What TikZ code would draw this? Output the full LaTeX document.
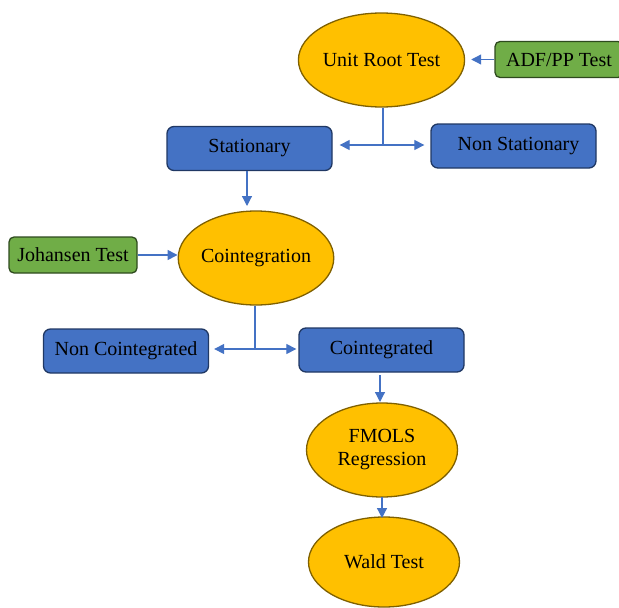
\documentclass[tikz,border=0pt]{standalone}
\usepackage{fontspec}
\setmainfont{Liberation Serif}
\usetikzlibrary{shapes.geometric,arrows.meta,calc}
\definecolor{goldfill}{HTML}{FFC000}
\definecolor{golddraw}{HTML}{7F6000}
\definecolor{bluefill}{HTML}{4472C4}
\definecolor{bluedraw}{HTML}{203864}
\definecolor{greenfill}{HTML}{70AD47}
\definecolor{greendraw}{HTML}{2E4A1E}
\definecolor{linkblue}{HTML}{4472C4}
\tikzset{
  stage/.style={ellipse, fill=goldfill, draw=golddraw, line width=1.3pt,
    minimum width=151pt, minimum height=94pt, inner sep=0pt,
    align=center, font=\fontsize{20}{25}\selectfont},
  result/.style={rectangle, rounded corners=7pt, fill=bluefill, draw=bluedraw,
    line width=1.3pt, minimum width=165pt, minimum height=44pt, inner sep=0pt,
    font=\fontsize{20}{24}\selectfont},
  testbox/.style={rectangle, rounded corners=5pt, fill=greenfill, draw=greendraw,
    line width=1.3pt, minimum height=36pt, inner sep=0pt,
    font=\fontsize{20}{24}\selectfont},
  link/.style={draw=linkblue, line width=1.2pt},
  flow/.style={link, -{Triangle[length=10pt,width=10pt]}},
}
\begin{document}
\begin{tikzpicture}[x=1pt,y=-1pt]
  \useasboundingbox (0,0) rectangle (619,608);
  \clip (0,0) rectangle (619,608);

  % test nodes and stages
  \node[stage] (ur) at (381.5,60) {Unit Root Test};
  \node[testbox, minimum width=128pt] (adf) at (559,59.5) {ADF/PP Test};
  \node[result] (st) at (249.5,148.5) {Stationary};
  \node[result] (ns) at (513.5,146) {\hspace*{10pt}Non Stationary};
  \node[stage] (ci) at (256,258) {Cointegration};
  \node[testbox, minimum width=128pt] (jo) at (73,255) {Johansen Test};
  \node[result] (nc) at (126,351) {Non Cointegrated};
  \node[result] (co) at (381.5,350) {Cointegrated};
  \node[stage] (fm) at (382,450) {FMOLS\\[-2pt]Regression};
  \node[stage, minimum height=90pt] (wt) at (384,562) {Wald Test};

  % junction points of the branching connectors
  \coordinate (j1) at (383,145);
  \coordinate (j2) at (255,349);

  % connectors
  \draw[flow, shorten >=6pt] (adf.west) -- (adf.west -| ur.east);
  \draw[link] (ur.south -| j1) -- (j1);
  \draw[flow, shorten >=7pt] (j1) -- (j1 -| st.east);
  \draw[flow, shorten >=6pt] (j1) -- (j1 -| ns.west);
  \draw[flow, shorten >=5pt] (247,171) -- (247,211);
  \draw[flow] (jo.east) -- (jo.east -| ci.west);
  \draw[link] (ci.south -| j2) -- (j2);
  \draw[flow, shorten >=5pt] (j2) -- (j2 -| nc.east);
  \draw[flow, shorten >=2pt] (j2) -- (j2 -| co.west);
  \draw[flow, shorten <=3pt, shorten >=1pt] (380,372) -- (380,403);
  \draw[flow] (382,497) -- (382,518);
\end{tikzpicture}
\end{document}
